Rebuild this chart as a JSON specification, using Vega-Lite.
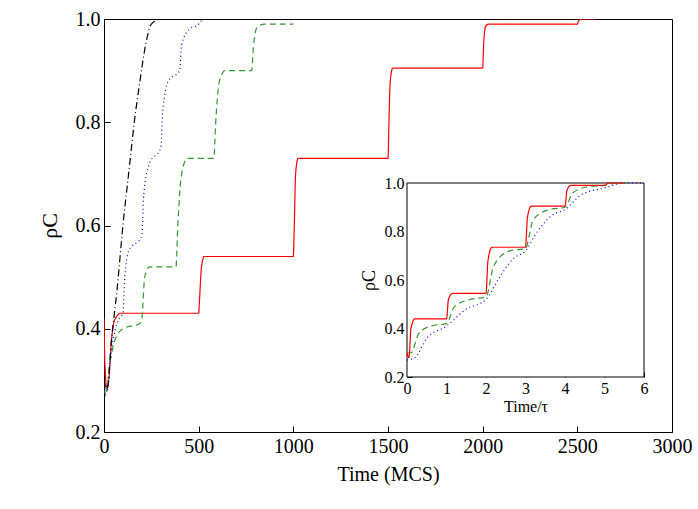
{
"$schema":"https://vega.github.io/schema/vega-lite/v6.json",
"width":568,"height":413,
"autosize":"none",
"padding":{"left":104,"top":19,"right":26,"bottom":77},
"background":"white",
"config":{"view":{"stroke":"black","strokeWidth":1},"font":"Liberation Serif",
"axis":{"grid":false,"domainColor":"black","tickColor":"black","labelColor":"black","titleColor":"black","labelFont":"Liberation Serif","titleFont":"Liberation Serif","titleFontWeight":"normal","labelOverlap":false,"labelFlush":false}},
"datasets":{
"main":[
{"s":"r","t":0,"v":0.42},{"s":"r","t":5,"v":0.33},{"s":"r","t":15,"v":0.285},{"s":"r","t":25,"v":0.3},{"s":"r","t":40,"v":0.38},{"s":"r","t":60,"v":0.42},{"s":"r","t":90,"v":0.43},{"s":"r","t":500,"v":0.43},{"s":"r","t":505,"v":0.46},{"s":"r","t":515,"v":0.52},{"s":"r","t":530,"v":0.54},{"s":"r","t":1000,"v":0.54},{"s":"r","t":1005,"v":0.6},{"s":"r","t":1012,"v":0.7},{"s":"r","t":1025,"v":0.73},{"s":"r","t":1500,"v":0.73},{"s":"r","t":1505,"v":0.8},{"s":"r","t":1512,"v":0.88},{"s":"r","t":1525,"v":0.905},{"s":"r","t":2000,"v":0.905},{"s":"r","t":2005,"v":0.95},{"s":"r","t":2015,"v":0.985},{"s":"r","t":2030,"v":0.99},{"s":"r","t":2500,"v":0.99},{"s":"r","t":2505,"v":0.995},{"s":"r","t":2520,"v":1.0},{"s":"r","t":2600,"v":1.0},
{"s":"g","t":0,"v":0.3},{"s":"g","t":10,"v":0.27},{"s":"g","t":30,"v":0.33},{"s":"g","t":60,"v":0.38},{"s":"g","t":100,"v":0.4},{"s":"g","t":190,"v":0.41},{"s":"g","t":200,"v":0.42},{"s":"g","t":215,"v":0.5},{"s":"g","t":240,"v":0.52},{"s":"g","t":380,"v":0.52},{"s":"g","t":390,"v":0.6},{"s":"g","t":410,"v":0.7},{"s":"g","t":440,"v":0.73},{"s":"g","t":580,"v":0.73},{"s":"g","t":590,"v":0.8},{"s":"g","t":610,"v":0.88},{"s":"g","t":640,"v":0.9},{"s":"g","t":780,"v":0.9},{"s":"g","t":790,"v":0.95},{"s":"g","t":810,"v":0.985},{"s":"g","t":850,"v":0.99},{"s":"g","t":1000,"v":0.99},
{"s":"b","t":0,"v":0.3},{"s":"b","t":15,"v":0.28},{"s":"b","t":40,"v":0.36},{"s":"b","t":80,"v":0.42},{"s":"b","t":100,"v":0.43},{"s":"b","t":110,"v":0.5},{"s":"b","t":130,"v":0.55},{"s":"b","t":200,"v":0.58},{"s":"b","t":210,"v":0.66},{"s":"b","t":240,"v":0.72},{"s":"b","t":300,"v":0.75},{"s":"b","t":310,"v":0.82},{"s":"b","t":340,"v":0.88},{"s":"b","t":400,"v":0.9},{"s":"b","t":410,"v":0.95},{"s":"b","t":450,"v":0.98},{"s":"b","t":500,"v":0.99},{"s":"b","t":520,"v":1.0},
{"s":"k","t":0,"v":0.3},{"s":"k","t":15,"v":0.28},{"s":"k","t":40,"v":0.38},{"s":"k","t":70,"v":0.48},{"s":"k","t":100,"v":0.6},{"s":"k","t":130,"v":0.7},{"s":"k","t":160,"v":0.8},{"s":"k","t":190,"v":0.88},{"s":"k","t":220,"v":0.95},{"s":"k","t":250,"v":0.99},{"s":"k","t":300,"v":1.0},{"s":"k","t":350,"v":1.0}
],
"inset":[
{"s":"b","t":0,"v":0.27},{"s":"b","t":0.2,"v":0.28},{"s":"b","t":0.5,"v":0.36},{"s":"b","t":1,"v":0.41},{"s":"b","t":1.5,"v":0.48},{"s":"b","t":2,"v":0.52},{"s":"b","t":2.3,"v":0.6},{"s":"b","t":2.7,"v":0.69},{"s":"b","t":3,"v":0.72},{"s":"b","t":3.3,"v":0.8},{"s":"b","t":3.7,"v":0.87},{"s":"b","t":4,"v":0.89},{"s":"b","t":4.4,"v":0.95},{"s":"b","t":5,"v":0.98},{"s":"b","t":5.5,"v":1.0},{"s":"b","t":6,"v":1.0},
{"s":"g","t":0,"v":0.3},{"s":"g","t":0.1,"v":0.3},{"s":"g","t":0.3,"v":0.38},{"s":"g","t":0.6,"v":0.41},{"s":"g","t":1,"v":0.42},{"s":"g","t":1.2,"v":0.49},{"s":"g","t":1.6,"v":0.52},{"s":"g","t":2,"v":0.53},{"s":"g","t":2.2,"v":0.66},{"s":"g","t":2.6,"v":0.72},{"s":"g","t":3,"v":0.73},{"s":"g","t":3.2,"v":0.85},{"s":"g","t":3.6,"v":0.89},{"s":"g","t":4,"v":0.9},{"s":"g","t":4.2,"v":0.96},{"s":"g","t":4.6,"v":0.985},{"s":"g","t":5,"v":0.99},{"s":"g","t":5.3,"v":1.0},{"s":"g","t":5.6,"v":1.0},
{"s":"r","t":0,"v":0.3},{"s":"r","t":0.05,"v":0.28},{"s":"r","t":0.1,"v":0.4},{"s":"r","t":0.2,"v":0.44},{"s":"r","t":1,"v":0.44},{"s":"r","t":1.05,"v":0.52},{"s":"r","t":1.15,"v":0.545},{"s":"r","t":2,"v":0.545},{"s":"r","t":2.05,"v":0.68},{"s":"r","t":2.15,"v":0.735},{"s":"r","t":3,"v":0.735},{"s":"r","t":3.05,"v":0.86},{"s":"r","t":3.15,"v":0.905},{"s":"r","t":4,"v":0.905},{"s":"r","t":4.05,"v":0.97},{"s":"r","t":4.15,"v":0.99},{"s":"r","t":5,"v":0.99},{"s":"r","t":5.1,"v":1.0},{"s":"r","t":5.5,"v":1.0}
],
"box":[{"x0":0,"x1":6,"y0":0.2,"y1":1.0}]
},
"layer":[
{"data":{"name":"main"},"mark":{"type":"line","strokeWidth":1.2,"clip":true,"interpolate":"monotone"},
"encoding":{
"x":{"field":"t","type":"quantitative","scale":{"domain":[0,3000],"nice":false},"axis":{"title":"Time (MCS)","values":[0,500,1000,1500,2000,2500,3000],"format":"d","tickSize":-6,"labelPadding":10,"labelFontSize":20,"titleFontSize":20,"titlePadding":8,"domain":false}},
"y":{"field":"v","type":"quantitative","scale":{"domain":[0.2,1.0],"nice":false,"zero":false},"axis":{"title":"ρC","values":[0.2,0.4,0.6,0.8,1.0],"format":".1f","tickSize":-6,"labelPadding":10,"labelFontSize":20,"titleFontSize":22,"titlePadding":14,"domain":false}},
"color":{"field":"s","type":"nominal","scale":{"domain":["r","g","b","k"],"range":["#ff0000","#339933","#0000ff","#000000"]},"legend":null},
"strokeDash":{"field":"s","type":"nominal","scale":{"domain":["r","g","b","k"],"range":[[1,0],[6,4],[1,3],[7,3,1,3]]},"legend":null}}},
{"layer":[
{"data":{"name":"box"},"mark":{"type":"rect","fill":"white","stroke":"black","strokeWidth":1},
"encoding":{"x":{"field":"x0","type":"quantitative","scale":{"domain":[0,6],"nice":false,"range":[303,540]},"axis":{"orient":"bottom","offset":-55,"title":"Time/τ","values":[0,1,2,3,4,5,6],"format":"d","tickSize":-5,"labelPadding":8,"labelFontSize":16,"titleFontSize":16,"titlePadding":2,"domain":false}},
"x2":{"field":"x1"},
"y":{"field":"y0","type":"quantitative","scale":{"domain":[0.2,1.0],"nice":false,"zero":false,"range":[358,164]},"axis":{"orient":"left","offset":-303,"title":"ρC","values":[0.2,0.4,0.6,0.8,1.0],"format":".1f","tickSize":-5,"labelPadding":8,"labelFontSize":16,"titleFontSize":18,"titlePadding":6,"domain":false}},
"y2":{"field":"y1"}}},
{"data":{"name":"inset"},"mark":{"type":"line","strokeWidth":1.2,"interpolate":"monotone"},
"encoding":{"x":{"field":"t","type":"quantitative"},"y":{"field":"v","type":"quantitative"},
"color":{"field":"s","type":"nominal","scale":{"domain":["r","g","b"],"range":["#ff0000","#339933","#0000ff"]},"legend":null},
"strokeDash":{"field":"s","type":"nominal","scale":{"domain":["r","g","b"],"range":[[1,0],[6,4],[1,3]]},"legend":null}}}
]}
],
"resolve":{"scale":{"x":"independent","y":"independent","color":"independent","strokeDash":"independent"}}
}
